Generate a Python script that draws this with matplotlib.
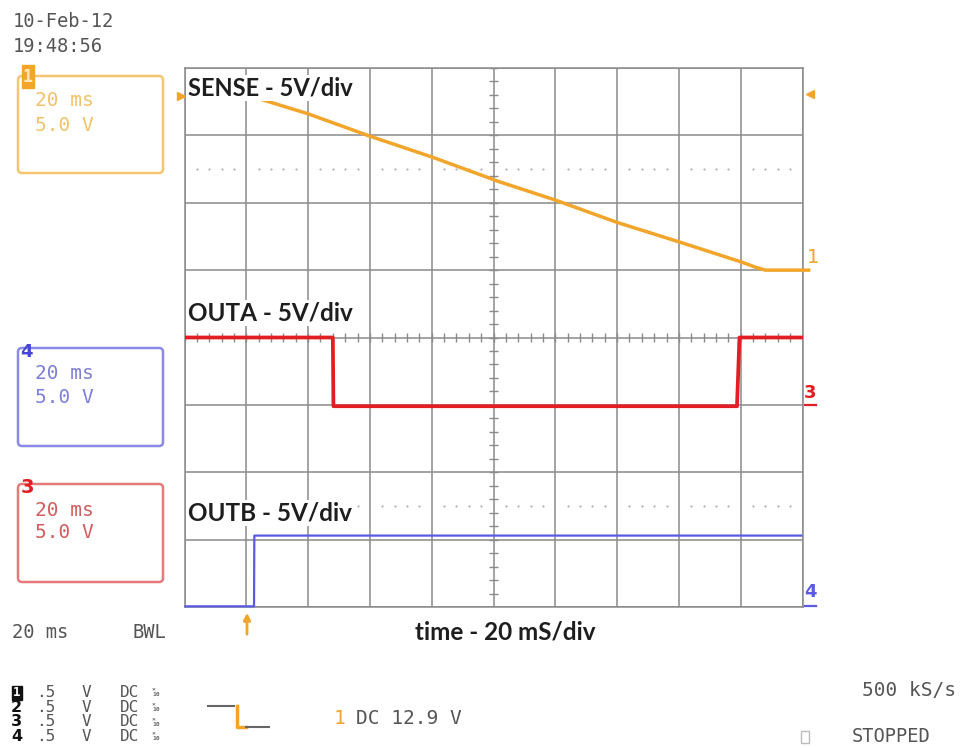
import matplotlib
matplotlib.use("Agg")
import matplotlib.pyplot as plt
from matplotlib.patches import FancyBboxPatch, Rectangle
import numpy as np

# ---------------- data ----------------
# time in ms relative to trigger (screen spans -20 .. 180 ms, 20 ms/div)
sense_t = [3, 20, 40, 60, 82, 100, 120, 140, 160, 165, 168, 175, 182]
sense_v = [12.8, 11.6, 9.94, 8.4, 6.55, 5.2, 3.54, 2.1, 0.62, 0.2, 0.0, 0.0, 0.0]
outa_t = [-20, 28, 28.2, 158.8, 159.6, 180]
outa_v = [5.0, 5.0, -0.1, -0.1, 5.0, 5.0]
outb_t = [-20, 2.5, 2.6, 180]
outb_v = [0.05, 0.05, 5.3, 5.3]
volts_per_div = 5.0
offsets_div = {"SENSE": 5, "OUTA": 3, "OUTB": 0}
trace_labels = ["SENSE - 5V/div", "OUTA - 5V/div", "OUTB - 5V/div"]
xlabel = "time - 20 mS/div"
channel_rows = ["1", "2", "3", "4"]

ORANGE = "#F2A52A"
RED = "#E21E24"
BLUE = "#5A5AE4"
GRID = "#8a8a8a"

fig = plt.figure(figsize=(9.64, 7.48), dpi=100)
fig.patch.set_facecolor("white")

# ---------------- scope graticule ----------------
ax = fig.add_axes([184.5 / 964, (748 - 607) / 748, 618 / 964, 539 / 748], zorder=1)
ax.set_xlim(-20, 180)
ax.set_ylim(0, 8)
ax.set_xticks(np.arange(-20, 181, 20))
ax.set_yticks(np.arange(0, 9, 1))
ax.grid(True, color=GRID, lw=1.1)
ax.tick_params(length=0, labelbottom=False, labelleft=False)
for s in ax.spines.values():
    s.set_color(GRID)
    s.set_linewidth(1.1)

# center cross minor ticks
mx = np.arange(-20, 180.1, 4)
ax.vlines(mx, 4 - 0.06, 4 + 0.06, color=GRID, lw=1.0)
my = np.arange(0, 8.01, 0.2)
ax.hlines(my, 80 - 1.6, 80 + 1.6, color=GRID, lw=1.0)

# dotted reference lines
dots_x = np.concatenate([-20 + 20 * (k + np.array([0.2, 0.4, 0.6, 0.8])) for k in range(10)])
for yl in (6.5, 1.5):
    ax.scatter(dots_x, np.full_like(dots_x, yl), s=2.5, color="#b0b0b0", lw=0, zorder=2)

def to_div(v, name):
    return offsets_div[name] + np.asarray(v) / volts_per_div

ax.plot(outb_t, to_div(outb_v, "OUTB"), color=BLUE, lw=1.6, zorder=4, clip_on=False,
        solid_capstyle="butt")
ax.plot(outa_t, to_div(outa_v, "OUTA"), color=RED, lw=2.7, zorder=5)
ax.plot(sense_t, to_div(sense_v, "SENSE"), color=ORANGE, lw=2.5, zorder=6, clip_on=False)

# ---------------- overlay (pixel coordinates) ----------------
ov = fig.add_axes([0, 0, 1, 1], zorder=5)
ov.set_xlim(0, 964)
ov.set_ylim(748, 0)
ov.axis("off")
ov.patch.set_alpha(0)

MONO = "DejaVu Sans Mono"
LBL = "Lato"

def T(x, y, s, color="#555555", size=14, weight="normal", family=MONO, ha="left", va="center", **kw):
    ov.text(x, y, s, color=color, fontsize=size, fontweight=weight, family=family,
            ha=ha, va=va, **kw)

# date / time
T(13, 21, "10-Feb-12", size=13.5)
T(13, 46, "19:48:56", size=13.5)

# channel boxes
def chan_box(y0, y1, edge, tcol, ty1, ty2):
    ov.add_patch(FancyBboxPatch((18, y0), 145, y1 - y0,
                                boxstyle="round,pad=0,rounding_size=4",
                                fc="none", ec=edge, lw=1.8))
    T(35, ty1, "20 ms", color=tcol, size=14)
    T(35, ty2, "5.0 V", color=tcol, size=14)

chan_box(76, 173, "#F4C672", "#F3C268", 100, 125)
ov.add_patch(Rectangle((22, 65), 12, 23, fc=ORANGE, ec=ORANGE))
T(28, 76.5, "1", color="#FFE9B8", size=12, weight="bold", ha="center")

chan_box(348, 446, "#8A8AE6", "#7E7ED8", 373, 397)
T(20, 352, "4", color="#4545DC", size=13, weight="bold", family="DejaVu Sans")

chan_box(484, 582, "#E47A7A", "#D35C5C", 510, 533)
T(21, 487, "3", color=RED, size=14, weight="bold", family="DejaVu Sans")

# trace labels (white background hides graticule behind them)
bb = dict(fc="white", ec="none", pad=0.8)
LS = 17.5
T(188, 88, trace_labels[0], color="#1e1e1e", size=LS - 0.5, weight="bold", family=LBL, bbox=bb)
T(188, 313, trace_labels[1], color="#1e1e1e", size=LS, weight="bold", family=LBL, bbox=bb)
T(188, 513, trace_labels[2], color="#1e1e1e", size=LS, weight="bold", family=LBL, bbox=bb)
T(505, 632, xlabel, color="#1e1e1e", size=LS, weight="bold", family=LBL, ha="center")

# markers around graticule
ov.plot([181], [96], marker=">", ms=6, color=ORANGE, ls="none")
ov.plot([810], [94], marker="<", ms=6, color=ORANGE, ls="none")
ov.annotate("", xy=(247, 610), xytext=(247, 637),
            arrowprops=dict(arrowstyle="-|>", color=ORANGE, lw=2.0, mutation_scale=10))

# right channel ground labels
T(807, 257, "1", color=ORANGE, size=14, family="DejaVu Sans")
T(810, 393, "3", color=RED, size=13, weight="bold", family="DejaVu Sans", ha="center")
ov.plot([805, 816], [405, 405], color=RED, lw=1.6)
T(810, 592, "4", color=BLUE, size=13, weight="bold", family="DejaVu Sans", ha="center")
ov.plot([805, 816], [606, 606], color=BLUE, lw=1.6)

# bottom-left status block
T(12, 632, "20 ms", size=13.5)
T(133, 632, "BWL", size=13.5)
row_y = [692.5, 707, 722, 736.5]
for lab, y in zip(channel_rows, row_y):
    if lab == "1":
        ov.add_patch(Rectangle((12, y - 7), 10, 14, fc="#111111", ec="#111111"))
        T(17, y, "1", color="white", size=9, weight="bold", ha="center")
    else:
        T(11, y, lab, color="#111111", size=11.5, weight="bold", family="DejaVu Sans")
    T(36, y, ".5", size=11.5)
    T(82, y, "V", size=11.5)
    T(120, y, "DC", size=11.5)
    T(152, y, "×\n10", size=4.6, color="#666666", weight="bold", linespacing=0.9)

# trigger icon and level
ov.plot([208, 234], [706, 706], color="#666666", lw=1.5)
ov.plot([237, 237, 246], [706, 727, 727], color=ORANGE, lw=2.5)
ov.plot([246, 269], [727, 727], color="#666666", lw=1.5)
T(334, 718, "1", color=ORANGE, size=14)
T(356, 718, "DC 12.9 V", size=14)

# acquisition status
T(862, 690, "500 kS/s", size=14)
ov.add_patch(Rectangle((801, 731), 8, 12, fc="none", ec="#bbbbbb", lw=1.0))
T(852, 737, "STOPPED", size=13.5)

fig.savefig("out.png", dpi=100, facecolor="white")
